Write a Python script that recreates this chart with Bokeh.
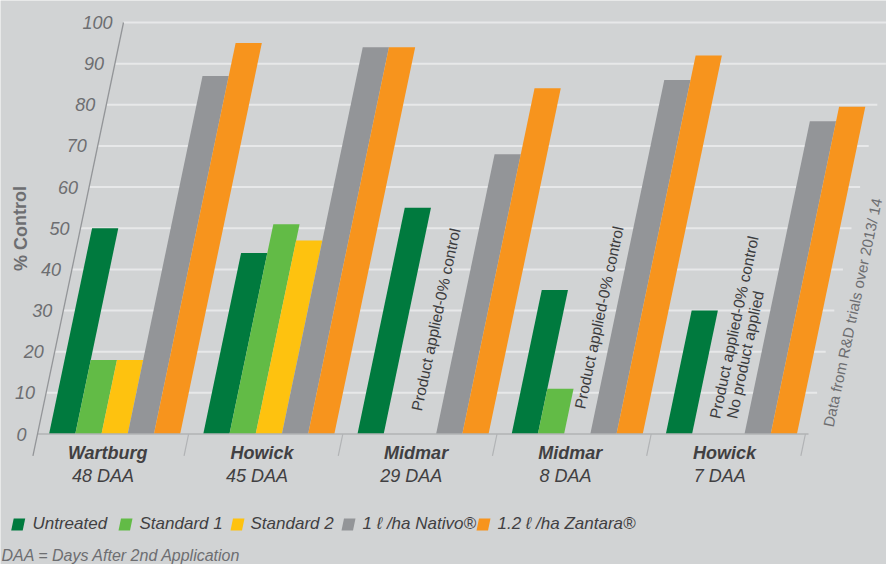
from bokeh.plotting import figure
from bokeh.models import Range1d
from bokeh.embed import file_html
from bokeh.resources import INLINE
from bokeh.core.properties import value

# ---------------- data ----------------
sites = ["Wartburg", "Howick", "Midmar", "Midmar", "Howick"]
timings = ["48 DAA", "45 DAA", "29 DAA", "8 DAA", "7 DAA"]
series = ["Untreated", "Standard 1", "Standard 2",
          "1 \u2113 /ha Nativo\u00ae", "1.2 \u2113 /ha Zantara\u00ae"]
untreated = [50, 44, 55, 35, 30]
standard_1 = [18, 51, 0, 11, 0]
standard_2 = [18, 47, 0, 0, 0]
nativo = [87, 94, 68, 86, 76]
zantara = [95, 94, 84, 92, 79.5]
y_ticks = [0, 10, 20, 30, 40, 50, 60, 70, 80, 90, 100]
y_title = "% Control"
note_applied = "Product applied-0% control"
note_none = "No product applied"
source_note = "Data from R&D trials over 2013/ 14"
footnote = "DAA = Days After 2nd Application"

# ---------------- styles / layout ----------------
colors = ["#007a3e", "#62bb46", "#fec20f", "#939598", "#f7941d"]
BG = "#d1d3d4"
GRID = "#e7e8e9"
AXIS = "#939598"
TICK_TXT = "#6d6e71"
DARK_TXT = "#414042"
FONT = value("Liberation Sans")

W, H = 886, 564
PX_X = 154.2          # pixels per category
PX_Y = 4.115          # pixels per % unit
X0 = 37               # canvas px of x = 0
Y0 = 433.5            # canvas px of y = 0
SHEAR = 0.209 * PX_Y / PX_X   # x units per y unit (italic slant)
BAR_W = 0.17
N_SER = 5


def page(xp, yp):
    """canvas pixel -> data coords"""
    return (xp - X0) / PX_X, (Y0 - yp) / PX_Y


def sx(x, y):
    return x + SHEAR * y


p = figure(width=W, height=H, output_backend="svg", toolbar_location=None,
           x_range=Range1d(-X0 / PX_X, (W - X0) / PX_X),
           y_range=Range1d(-(H - Y0) / PX_Y, Y0 / PX_Y),
           x_axis_type=None, y_axis_type=None, min_border=0,
           background_fill_color=BG, border_fill_color=BG,
           outline_line_color=None)
p.grid.visible = False

n_groups = len(sites)

# grid lines (sheared)
gx, gy = [], []
for t in y_ticks[1:]:
    gx.append([sx(0, t), sx(n_groups, t)])
    gy.append([t, t])
p.multi_line(gx, gy, line_color=GRID, line_width=2)

# bars as parallelograms
all_vals = [untreated, standard_1, standard_2, nativo, zantara]
xs, ys, cs = [], [], []
for j, vals in enumerate(all_vals):
    for i, v in enumerate(vals):
        if v <= 0:
            continue
        x0 = i + 0.5 - BAR_W * N_SER / 2 + j * BAR_W
        x1 = x0 + BAR_W
        xs.append([x0, x1, sx(x1, v), sx(x0, v)])
        ys.append([0, 0, v, v])
        cs.append(colors[j])
p.patches(xs, ys, fill_color=cs, line_color=None)

# baseline
p.line([0, n_groups], [0, 0], line_color="#b1b3b5", line_width=1.5)
# y axis line
yb = -5.3
p.line([sx(0, yb), sx(0, 100)], [yb, 100], line_color=AXIS, line_width=1.3)
# category separators
sep_x, sep_y = [], []
for k in range(1, n_groups + 1):
    xk = k - 0.02
    sep_x.append([xk, sx(xk, yb)])
    sep_y.append([0, yb])
p.multi_line(sep_x, sep_y, line_color="#b1b3b5", line_width=1.2)

# y tick labels
gap = 11 / PX_X
p.text(x=[sx(0, t) - gap for t in y_ticks], y=y_ticks,
       text=[str(t) for t in y_ticks], text_font=FONT,
       text_font_style="italic", text_font_size="18px",
       text_color=TICK_TXT, text_align="right", text_baseline="middle")

# y title
tx, ty = page(20, 228)
p.text(x=[tx], y=[ty], text=[y_title], text_font=FONT, text_font_style="bold",
       text_font_size="18px", text_color=TICK_TXT, angle=1.5708,
       text_align="center", text_baseline="middle")

# category labels
y_name = -4.5
y_daa = -10.1
dx = -3 / PX_X
p.text(x=[sx(i + 0.5 + dx, y_name) for i in range(n_groups)],
       y=[y_name] * n_groups, text=sites, text_font=FONT,
       text_font_style="bold italic", text_font_size="18px",
       text_color=DARK_TXT, text_align="center", text_baseline="middle")
p.text(x=[sx(i + 0.5 + dx, y_daa) for i in range(n_groups)],
       y=[y_daa] * n_groups, text=timings, text_font=FONT,
       text_font_style="italic", text_font_size="18px",
       text_color=DARK_TXT, text_align="center", text_baseline="middle")

# notes inside empty slots (group, x offset, y start, text)
ANG = 1.361
notes = [(2, -0.074, 5.7, note_applied),
         (3, -0.019, 6.2, note_applied),
         (4, -0.130, 3.8, note_applied),
         (4, -0.020, 3.8, note_none)]
p.text(x=[sx(g + 0.5 + o, yy) for g, o, yy, _ in notes],
       y=[yy for _, _, yy, _ in notes], text=[t for *_, t in notes],
       text_font=FONT, text_font_size="15.5px", text_color="#3c3c3e",
       angle=ANG, text_align="left", text_baseline="middle")

# source note on the right
snx, sny = page(852, 312)
p.text(x=[snx], y=[sny], text=[source_note], text_font=FONT,
       text_font_size="15px", text_color=TICK_TXT, angle=ANG,
       text_align="center", text_baseline="middle")

# legend (manual, slanted swatches)
sw_left = [10.7, 118, 230, 341, 476]
txt_left = [32, 139, 250, 362, 497]
lg_xs, lg_ys = [], []
for l in sw_left:
    pts = [(l, 530), (l + 11.5, 530), (l + 14, 518), (l + 2.5, 518)]
    d = [page(a, b) for a, b in pts]
    lg_xs.append([q[0] for q in d])
    lg_ys.append([q[1] for q in d])
p.patches(lg_xs, lg_ys, fill_color=colors, line_color=None)
lt = [page(x, 522.5) for x in txt_left]
p.text(x=[q[0] for q in lt], y=[q[1] for q in lt], text=series,
       text_font=FONT, text_font_style="italic", text_font_size="17px",
       text_color=DARK_TXT, text_align="left", text_baseline="middle")

# footnote
fx, fy = page(1, 563)
p.text(x=[fx], y=[fy], text=[footnote], text_font=FONT,
       text_font_style="italic", text_font_size="16px",
       text_color=TICK_TXT, text_align="left", text_baseline="bottom")

open("out.html", "w").write(file_html(p, INLINE))
